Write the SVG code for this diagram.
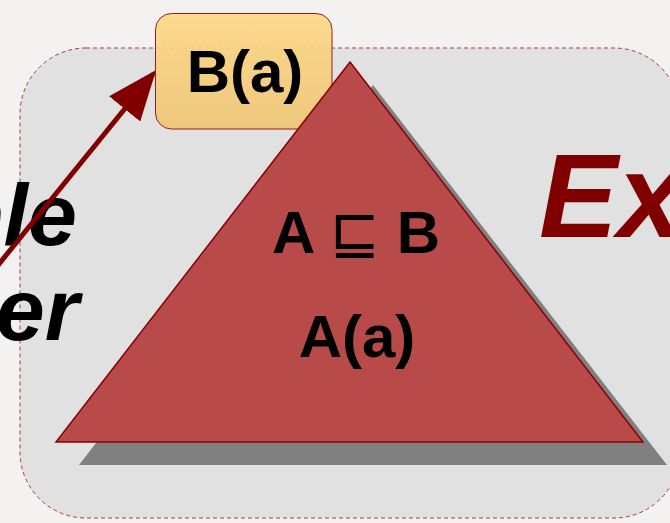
<svg xmlns="http://www.w3.org/2000/svg" width="670" height="523" viewBox="0 0 670 523">
  <defs>
    <linearGradient id="boxGrad" x1="0" y1="0" x2="0" y2="1">
      <stop offset="0" stop-color="#fdd885"/>
      <stop offset="1" stop-color="#efc574"/>
    </linearGradient>
    <marker id="arrowHead" markerWidth="10" markerHeight="8" refX="9" refY="4" orient="auto" markerUnits="strokeWidth">
      <path d="M0,0 L10,4 L0,8 Z" fill="#800000"/>
    </marker>
  </defs>
  <style>
    .big { font-family: "Liberation Sans", Arial, sans-serif; font-weight: bold; }
    .side { font-family: "Liberation Sans", Arial, sans-serif; font-weight: bold; font-style: italic; font-size: 88px; fill: #000; }
    .tri { fill: #b84a4a; stroke: #8b0000; stroke-width: 1.5; }
  </style>
  <rect x="0" y="0" width="670" height="523" fill="#f4f1f1"/>
  <g id="frame">
    <rect x="20" y="48" width="660" height="470" rx="66" ry="66" fill="#e2e1e1" stroke="#a83a3a" stroke-width="1" stroke-dasharray="4 3"/>
  </g>
  <g id="labels-left">
    <text class="side" x="77" y="245" text-anchor="end">ple</text>
    <text class="side" x="79" y="340" text-anchor="end">er</text>
  </g>
  <g id="label-ex">
    <text class="big" x="539" y="237" font-size="118" font-style="italic" fill="#800000">Ex</text>
  </g>
  <g id="connectors">
    <line x1="-10" y1="275" x2="153" y2="74" stroke="#800000" stroke-width="5" marker-end="url(#arrowHead)"/>
  </g>
  <g id="node-ba">
    <rect x="155.5" y="13.5" width="176.5" height="115.5" rx="16" ry="16" fill="url(#boxGrad)" fill-opacity="0.92" stroke="#9b1c1c" stroke-width="1"/>
    <text class="big" x="245" y="92" font-size="60" text-anchor="middle" fill="#000">B(a)</text>
  </g>
  <g id="node-kb">
    <polygon points="373,85 667,465 79,465" fill="#808080"/>
    <polygon class="tri" points="350,62 643,442 56,442"/>
    <text class="big" x="356" y="253" font-size="60" text-anchor="middle" fill="#000">A <tspan font-family="DejaVu Sans, sans-serif" font-weight="normal">⊑</tspan> B</text>
    <text class="big" x="357" y="357" font-size="60" text-anchor="middle" fill="#000">A(a)</text>
  </g>
</svg>
